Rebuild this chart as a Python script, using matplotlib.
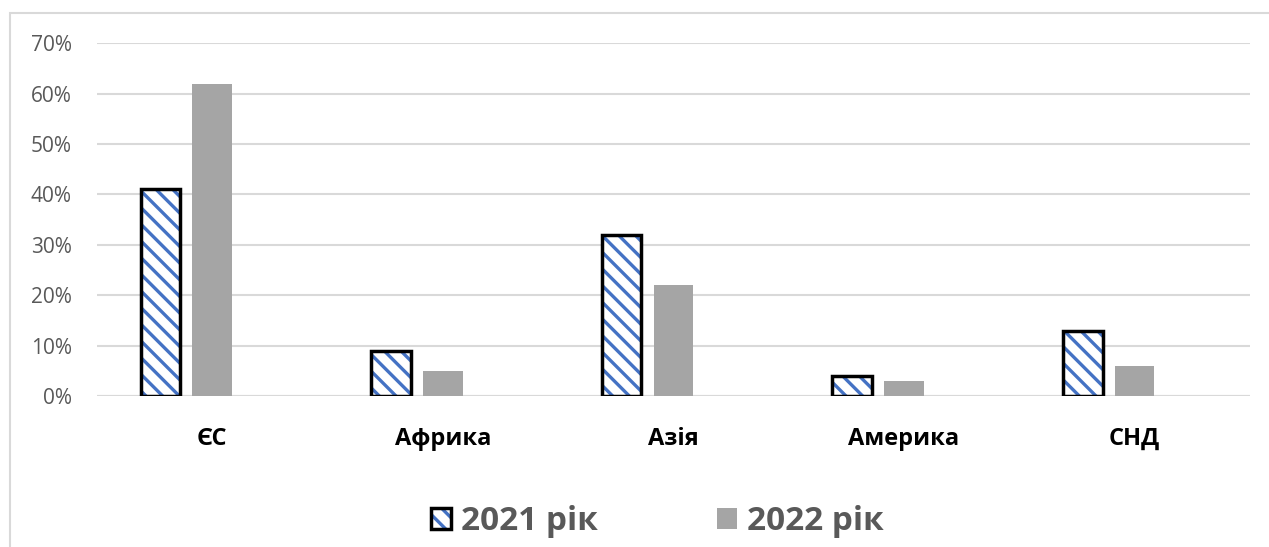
import matplotlib.pyplot as plt
import numpy as np
from matplotlib.patches import Rectangle
from matplotlib.ticker import PercentFormatter

plt.rcParams['font.family'] = ['Open Sans', 'DejaVu Sans']
plt.rcParams['hatch.linewidth'] = 2.4

regions = ['ЄС', 'Африка', 'Азія', 'Америка', 'СНД']
share_2021 = [41, 9, 32, 4, 13]
share_2022 = [62, 5, 22, 3, 6]
series_names = ['2021 рік', '2022 рік']

x = np.arange(len(regions))
w = 0.172
shift = 0.225

fig = plt.figure(figsize=(12.69, 5.47), dpi=100)
ax = fig.add_axes([0.0764, 0.276, 0.9086, 0.645])

# 2021: blue diagonal stripes on white with a black outline
stripes = ax.bar(x - shift, share_2021, w, color='white', edgecolor='#4472C4',
                 hatch='\\\\', linewidth=0, zorder=3)
outline = ax.bar(x - shift, share_2021, w, fill=False, edgecolor='black',
                 linewidth=2.5, zorder=4)
gray = ax.bar(x, share_2022, w, color='#A5A5A5', linewidth=0, zorder=3)

ax.set_xlim(-0.5, 4.5)
ax.set_ylim(0, 70)
ax.set_yticks(range(0, 71, 10))
ax.yaxis.set_major_formatter(PercentFormatter(decimals=0))
ax.grid(axis='y', color='#D9D9D9', linewidth=1.5, zorder=0)
for s in ax.spines.values():
    s.set_visible(False)
ax.axhline(0, color='#D9D9D9', linewidth=1.5, zorder=1)

ax.tick_params(axis='y', length=0, pad=18, labelsize=15, labelcolor='#595959')
ax.tick_params(axis='x', length=0, pad=22)
ax.set_xticks(x)
ax.set_xticklabels(regions, fontsize=17, fontweight='bold', color='black')

leg = fig.legend([(stripes[0], outline[0]), gray[0]], series_names,
                 loc='center', bbox_to_anchor=(0.518, 0.046), ncol=2,
                 frameon=False, prop={'size': 24, 'weight': 'bold'},
                 handlelength=0.6, handleheight=0.6, handletextpad=0.3,
                 columnspacing=3.6)
for t in leg.get_texts():
    t.set_color('#595959')

fig.add_artist(Rectangle((10 / 1269, -0.1), 1.2, 1.1 - 13 / 547,
                         transform=fig.transFigure, fill=False,
                         edgecolor='#D9D9D9', linewidth=1.5))

fig.savefig('out.png', dpi=100)
